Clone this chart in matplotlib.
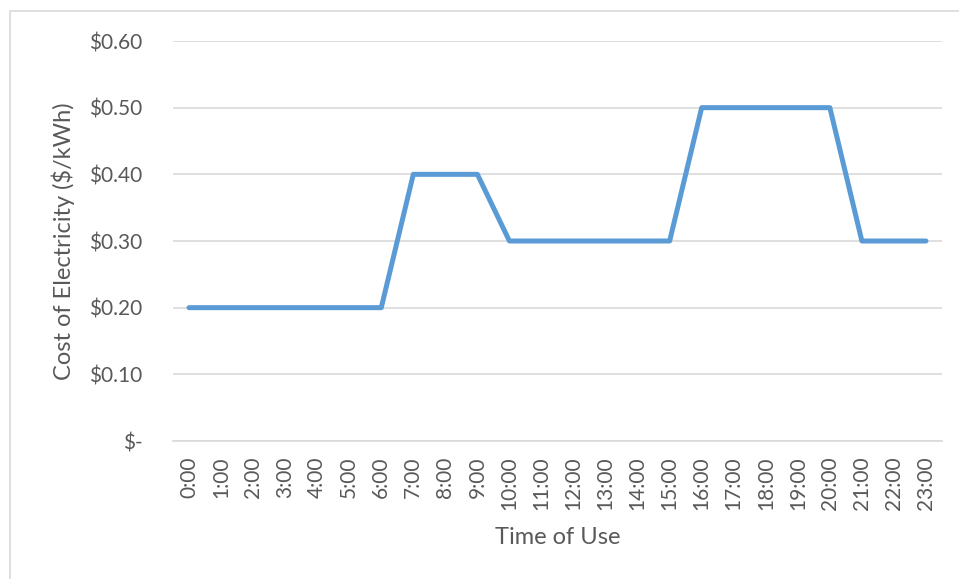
import matplotlib
matplotlib.use("Agg")
import matplotlib.pyplot as plt
from matplotlib.patches import Rectangle

hours = [f"{h}:00" for h in range(24)]
cost = [0.20, 0.20, 0.20, 0.20, 0.20, 0.20, 0.20,
        0.40, 0.40, 0.40,
        0.30, 0.30, 0.30, 0.30, 0.30, 0.30,
        0.50, 0.50, 0.50, 0.50, 0.50,
        0.30, 0.30, 0.30]
yticks = [0.0, 0.1, 0.2, 0.3, 0.4, 0.5, 0.6]
ytick_labels = ["$-", "$0.10", "$0.20", "$0.30", "$0.40", "$0.50", "$0.60"]

plt.rcParams['font.family'] = ['Lato', 'DejaVu Sans']
W, H = 959, 579
fig = plt.figure(figsize=(W / 100, H / 100), dpi=100)

# chart border (left/top visible)
fig.add_artist(Rectangle((10 / W, -0.05), 1.2, (H - 11) / H + 0.05,
                         transform=fig.transFigure, fill=False,
                         edgecolor='#D9D9D9', linewidth=1.2))

ax = fig.add_axes([173 / W, 1 - 441 / H, (942 - 173) / W, (441 - 41) / H])
x = list(range(len(hours)))
ax.plot(x, cost, color='#5B9BD5', linewidth=3.6, solid_joinstyle='round',
        solid_capstyle='round', zorder=3)
ax.set_xlim(-0.5, len(hours) - 0.5)
ax.set_ylim(0, 0.6)
ax.set_yticks(yticks)
ax.set_yticklabels(ytick_labels)
ax.set_xticks(x)
ax.set_xticklabels(hours, rotation=90)
ax.grid(axis='y', color='#D9D9D9', linewidth=1.2, zorder=0)
for s in ['top', 'right', 'left']:
    ax.spines[s].set_visible(False)
ax.spines['bottom'].set_color('#D9D9D9')
ax.spines['bottom'].set_linewidth(1.2)
ax.tick_params(axis='both', length=0, colors='#595959', labelsize=15)
ax.tick_params(axis='y', pad=22)
ax.tick_params(axis='x', pad=11)
ax.set_ylabel("Cost of Electricity ($/kWh)", fontsize=17, color='#595959', labelpad=10)
ax.set_xlabel("Time of Use", fontsize=17, color='#595959', labelpad=12)

fig.savefig("out.png", dpi=100)
